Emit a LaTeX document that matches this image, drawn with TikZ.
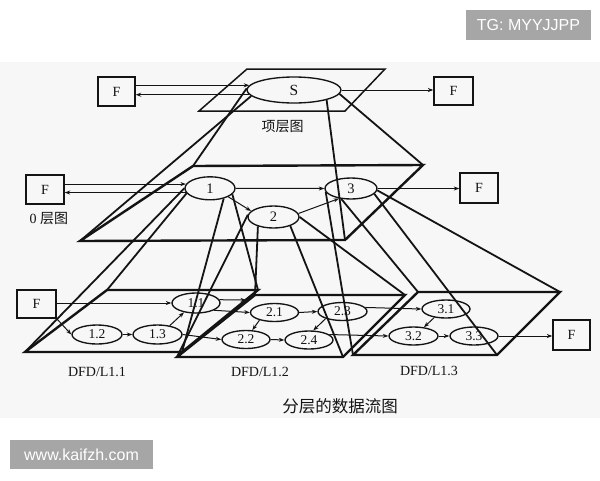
\documentclass[tikz,border=0pt]{standalone}
\usepackage{fontspec}
\setmainfont{Liberation Serif}
\newfontfamily\cjk{Noto Sans CJK SC}
\newfontfamily\wmfont{Liberation Sans}
\usetikzlibrary{shapes.geometric,arrows.meta}
\definecolor{wmgray}{HTML}{A6A6A6}
\definecolor{bgband}{HTML}{F7F7F7}
\definecolor{ink}{HTML}{141414}
\begin{document}
\begin{tikzpicture}[x=1pt,y=-1pt,
  plane/.style={draw=ink, line width=2.4pt, line join=miter},
  topplane/.style={draw=ink, line width=1.5pt, line join=miter},
  proj/.style={draw=ink, line width=1.8pt},
  ell/.style={ellipse, draw=ink, line width=1.35pt, inner sep=0pt, text=ink, font=\fontsize{13.5}{13.5}\selectfont},
  bigell/.style={ell, font=\fontsize{14.5}{14.5}\selectfont},
  fbox/.style={draw=ink, line width=1.35pt, inner sep=0pt, text=ink, font=\fontsize{14}{14}\selectfont},
  arr/.style={draw=ink, line width=1pt, -{Stealth[length=5.5pt,width=4pt]}},
  lbl/.style={text=ink, font=\fontsize{14}{14}\selectfont},
  cjklbl/.style={text=ink, font=\cjk\fontsize{14}{14}\selectfont},
  wm/.style={fill=wmgray, draw=none, text=white, inner sep=0pt, font=\wmfont\fontsize{16}{16}\selectfont}
]
\useasboundingbox (0,0) rectangle (600,480);
\fill[white] (0,0) rectangle (600,480);
\fill[bgband] (0,62) rectangle (600,418);

% ---------- plane corners ----------
\coordinate (tTL) at (247,69);  \coordinate (tTR) at (385,69);
\coordinate (tBR) at (345,111); \coordinate (tBL) at (199,111);
\coordinate (zTL) at (193,166); \coordinate (zTR) at (423,165);
\coordinate (zBR) at (345,240); \coordinate (zBL) at (80,241);
\coordinate (aTL) at (107,290); \coordinate (aTR) at (258,290);
\coordinate (aBR) at (182,352); \coordinate (aBL) at (25,352);
\coordinate (bTL) at (255,295); \coordinate (bTR) at (405,295);
\coordinate (bBR) at (343,357); \coordinate (bBL) at (177,357);
\coordinate (cTL) at (418,292); \coordinate (cTR) at (560,292);
\coordinate (cBR) at (497,355); \coordinate (cBL) at (353,355);
\coordinate (o11) at (246,300);

% ---------- planes ----------
\draw[topplane] (tTL) -- (tTR) -- (tBR) -- (tBL) -- cycle;
\draw[plane] (zBL) -- (zTL) -- (zTR) -- (zBR) -- cycle;
\draw[plane] (aBL) -- (aTL) -- (aTR) -- (aBR) -- cycle;
\draw[plane] (bBL) -- (bTL) -- (bTR) -- (bBR) -- cycle;
\draw[plane] (cBL) -- (cTL) -- (cTR) -- (cBR) -- cycle;

% ---------- nodes ----------
\node[ell, minimum width=94pt, minimum height=26pt, font=\fontsize{15.5}{15.5}\selectfont] (S) at (294,90) {S};
\node[fbox, minimum width=37pt, minimum height=29pt] (Ftl) at (116.5,91.5) {F};
\node[fbox, minimum width=39pt, minimum height=28pt] (Ftr) at (453.5,91) {F};
\node[cjklbl] (toplbl) at (282.5,127) {项层图};

\node[bigell, minimum width=50pt, minimum height=23pt] (n1) at (210,188.3) {1};
\node[bigell, minimum width=51pt, minimum height=22pt] (n2) at (273.5,217) {2};
\node[bigell, minimum width=52pt, minimum height=21pt] (n3) at (351,188.5) {3};
\node[fbox, minimum width=38pt, minimum height=29pt] (F0l) at (45,189.5) {F};
\node[fbox, minimum width=38pt, minimum height=30pt] (F0r) at (479,188) {F};
\node[anchor=west, text=ink, font=\fontsize{14}{14}\selectfont] (l0) at (26,219) {0 {\cjk 层图}};

\node[ell, minimum width=48pt, minimum height=20pt] (e11) at (196,303) {1.1};
\node[ell, minimum width=50pt, minimum height=19pt] (e12) at (97,334.5) {1.2};
\node[ell, minimum width=49pt, minimum height=19pt] (e13) at (157.5,334.5) {1.3};
\node[fbox, minimum width=39pt, minimum height=28pt] (Ff) at (36.5,304) {F};

\node[ell, minimum width=48pt, minimum height=18pt] (e21) at (274.5,312.5) {2.1};
\node[ell, minimum width=48pt, minimum height=18pt] (e22) at (246,339.5) {2.2};
\node[ell, minimum width=49pt, minimum height=18pt] (e23) at (342.5,311.5) {2.3};
\node[ell, minimum width=48pt, minimum height=18pt] (e24) at (309,340) {2.4};

\node[ell, minimum width=48pt, minimum height=18pt] (e31) at (446,309) {3.1};
\node[ell, minimum width=49pt, minimum height=18pt] (e32) at (413.5,336) {3.2};
\node[ell, minimum width=48pt, minimum height=18pt] (e33) at (474,336) {3.3};
\node[fbox, minimum width=37pt, minimum height=30pt] (Fbr) at (571.5,335) {F};

\node[lbl] (d1) at (97,372) {DFD/L1.1};
\node[lbl] (d2) at (260,372) {DFD/L1.2};
\node[lbl] (d3) at (429,370.5) {DFD/L1.3};
\node[text=ink, font=\cjk\fontsize{16.5}{16.5}\selectfont] (cap) at (340,406) {分层的数据流图};

\node[wm, minimum width=125pt, minimum height=30pt] (tg) at (528.5,25) {TG: MYYJJPP};
\node[wm, minimum width=143pt, minimum height=29pt] (www) at (81.5,454.5) {www.kaifzh.com};

% ---------- projection lines ----------
\draw[proj] (S.178) -- (zTL);
\draw[proj] (S.188) -- (zBL);
\draw[proj] (S.-5) -- (zTR);
\draw[proj] (S.-17) -- (zBR);
\draw[proj] (n1.west) -- (aBL);
\draw[proj] (n1.192) -- (aTL);
\draw[proj] (n1.-37) -- (aBR);
\draw[proj] (n1.-15) -- (aTR);
\draw[proj] (n2.175) -- (bBL);
\draw[proj] (n2.-149) -- (bTL);
\draw[proj] (n2.east) -- (bTR);
\draw[proj] (n2.-28) -- (bBR);
\draw[proj] (n3.188) -- (cBL);
\draw[proj] (n3.-133) -- (cTL);
\draw[proj] (n3.-13) -- (cBR);
\draw[proj] (n3.-4) -- (cTR);

% ---------- data flows ----------
\draw[arr] (Ftl.east |- S.174) -- (S.174);
\draw[arr] (S.186) -- (S.186 -| Ftl.east);
\draw[arr] (S.east) -- (S.east -| Ftr.west);

\draw[arr] (F0l.east |- n1.170) -- (n1.170);
\draw[arr] (n1.190) -- (n1.190 -| F0l.east);
\draw[arr] (n1.east) -- (n3.west);
\draw[arr] (n1.-25) -- (n2.165);
\draw[arr] (n2.8) -- (n3.-140);
\draw[arr] (n3.east) -- (n3.east -| F0r.west);

\draw[arr] (Ff.east |- e11.west) -- (e11.west);
\draw[arr] (Ff.south east) -- (e12.west);
\draw[arr] (e12.east) -- (e13.west);
\draw[arr] (e13.36) -- (e11.-142);
\draw[arr] (e11.8) -- (o11);
\draw[arr] (e11.-22) -- (e21.west);

\draw[arr] (e13.east) -- (e22.west);
\draw[arr] (e21.east) -- (e23.west);
\draw[arr] (e21.-153) -- (e22.56);
\draw[arr] (e22.east) -- (e24.west);
\draw[arr] (e23.-157) -- (e24.66);
\draw[arr] (e24.15) -- (e32.west);
\draw[arr] (e23.10) -- (e31.west);

\draw[arr] (e31.-144) -- (e32.40);
\draw[arr] (e32.east) -- (e33.west);
\draw[arr] (e33.east) -- (e33.east -| Fbr.west);
\end{tikzpicture}
\end{document}
